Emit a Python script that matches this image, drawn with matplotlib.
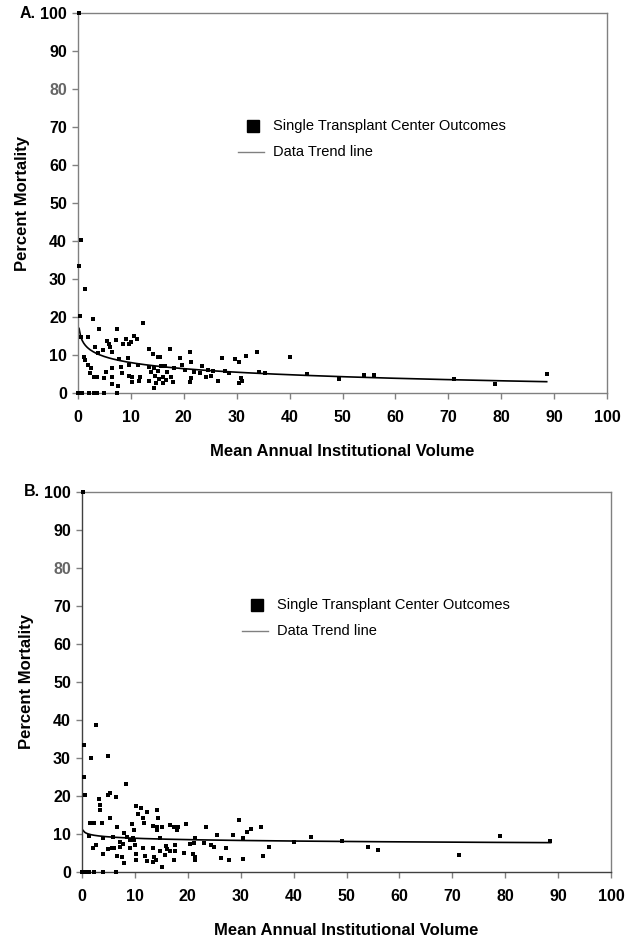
import matplotlib
matplotlib.use("Agg")
import matplotlib.pyplot as plt
import numpy as np

plt.rcParams['font.family'] = ['Liberation Sans', 'DejaVu Sans']

# Panel A - single transplant center outcomes
a_volume = [0.2, 0.5, 0.25, 1.4, 0.4, 2.8, 12.2, 4.0, 7.3, 0.6, 1.8, 10.5, 11.1, 5.4, 7.2,
            9.1, 10.0, 5.9, 3.3, 6.0, 8.6, 9.7, 13.5, 17.3, 21.2, 4.8, 6.4, 3.8, 14.1, 15.1,
            15.5, 1.2, 1.4, 7.8, 9.4, 19.2, 27.3, 29.7, 31.8, 33.8, 30.5, 21.4, 1.8, 9.7,
            11.3, 2.5, 6.5, 8.1, 13.4, 14.3, 15.7, 16.5, 23.4, 19.6, 5.2, 2.3, 8.4, 13.8,
            15.1, 16.9, 18.2, 20.3, 22.0, 23.1, 24.5, 25.5, 27.8, 28.5, 34.3, 35.4, 3.1,
            3.5, 6.5, 9.6, 10.2, 11.7, 14.6, 16.1, 17.6, 24.2, 25.1, 26.4, 21.4, 30.8, 5.0,
            10.3, 11.6, 13.5, 14.7, 15.3, 16.6, 17.9, 21.2, 30.4, 31.0, 6.4, 7.5, 14.4,
            16.0, 7.3, 0.0, 0.8, 2.1, 3.1, 3.5, 5.0,
            40.1, 43.3, 49.3, 54.1, 55.9, 71.1, 78.8, 88.6]
a_mortality = [100, 40.3, 33.5, 27.5, 20.3, 19.4, 18.5, 16.8, 16.8, 14.8, 14.8, 15.0, 14.2,
               13.7, 13.9, 14.1, 13.5, 12.9, 12.2, 12.0, 12.8, 12.9, 11.7, 11.7, 10.9, 11.3,
               10.9, 10.6, 10.3, 9.6, 9.4, 9.4, 8.7, 8.9, 9.1, 9.1, 9.1, 8.9, 9.7, 10.9,
               8.2, 8.2, 7.3, 7.3, 7.3, 6.5, 6.6, 6.9, 6.9, 6.5, 7.1, 7.1, 7.1, 7.3, 5.6,
               5.2, 5.2, 5.6, 5.9, 5.6, 6.5, 6.1, 5.6, 5.2, 6.1, 5.9, 5.9, 5.2, 5.6, 5.4,
               4.3, 4.2, 4.2, 4.5, 4.2, 4.2, 4.5, 4.2, 4.2, 4.2, 4.5, 3.3, 3.9, 3.9, 3.9,
               3.0, 3.3, 3.3, 2.7, 3.6, 3.4, 3.0, 3.0, 2.6, 3.3, 2.4, 1.9, 1.3, 2.6, 0.1,
               0, 0, 0, 0, 0, 0,
               9.5, 5.0, 3.7, 4.7, 4.7, 3.7, 2.5, 5.0]

# Panel B
b_volume = [0.1, 2.6, 0.4, 1.7, 5.0, 0.4, 8.3, 0.6, 5.2, 4.9, 6.5, 3.3, 3.4, 3.4, 10.2,
            11.1, 10.6, 12.2, 14.1, 14.4, 11.6, 5.2, 1.6, 2.3, 3.7, 11.7, 9.4, 13.5, 14.1,
            15.2, 16.6, 17.3, 18.2, 17.9, 19.7, 23.4, 29.7, 31.9, 31.1, 33.8, 6.7, 9.8,
            14.2, 1.4, 3.9, 5.8, 7.9, 8.6, 9.6, 9.0, 9.8, 7.2, 7.8, 10.0, 14.7, 21.4, 25.6,
            28.5, 30.4, 20.4, 21.2, 23.1, 24.3, 25.0, 35.4, 2.6, 2.0, 5.0, 5.6, 6.0, 7.1,
            9.1, 11.6, 13.5, 15.9, 16.1, 17.6, 14.7, 16.6, 17.6, 19.2, 27.3, 3.9, 6.7,
            10.2, 11.9, 13.6, 15.7, 21.0, 21.4, 21.4, 26.2, 27.8, 30.4, 34.3, 7.5, 10.3,
            12.2, 14.0, 17.3, 7.9, 13.4, 15.1,
            0.0, 0.8, 1.4, 2.3, 3.9, 6.4,
            40.0, 43.2, 49.1, 54.1, 56.0, 71.2, 79.0, 88.5]
b_mortality = [100, 38.7, 33.4, 30.1, 30.5, 25.1, 23.2, 20.2, 20.9, 20.2, 19.7, 19.3, 17.6,
               16.2, 17.4, 16.9, 15.3, 15.8, 16.2, 14.1, 14.1, 14.1, 12.8, 12.8, 12.8, 12.8,
               12.6, 12.1, 11.9, 11.9, 12.4, 11.8, 11.8, 11.1, 12.6, 11.9, 13.7, 11.2, 10.4,
               11.8, 11.8, 11.1, 11.1, 9.5, 9.0, 9.2, 10.2, 9.3, 8.9, 8.3, 8.3, 8.0, 7.4,
               7.1, 8.9, 8.9, 9.7, 9.7, 8.9, 7.4, 7.7, 7.7, 7.1, 6.7, 6.5, 7.1, 6.2, 6.0,
               6.2, 6.2, 6.5, 6.2, 6.2, 6.2, 6.8, 6.0, 7.1, 5.6, 5.6, 5.6, 5.1, 6.2, 4.7,
               4.2, 4.7, 4.2, 3.9, 4.5, 4.7, 3.9, 3.2, 3.6, 3.2, 3.4, 4.2, 3.9, 3.2, 3.0,
               3.2, 3.2, 2.3, 2.5, 1.3,
               0, 0, 0, 0, 0, 0,
               8.0, 9.1, 8.2, 6.7, 5.8, 4.5, 9.5, 8.1]

# logarithmic trend lines  y = c - k*ln(x)
a_trend = (13.3, 2.3)
b_trend = (10.1, 0.53)
trend_range = (0.2, 88.6)

ticks = list(range(0, 101, 10))

fig = plt.figure(figsize=(6.25, 9.43), dpi=100)

panels = [
    ("A.", [0.1248, 0.5832, 0.8464, 0.403], a_volume, a_mortality, a_trend, '#808080'),
    ("B.", [0.1312, 0.0753, 0.8464, 0.403], b_volume, b_mortality, b_trend, '#404040'),
]

for tag, rect, vol, mort, trend, axcol in panels:
    ax = fig.add_axes(rect)
    ax.scatter(vol, mort, marker='s', s=11, color='black', linewidths=0,
               zorder=3, clip_on=False)

    xs = np.linspace(trend_range[0], trend_range[1], 300)
    ax.plot(xs, trend[0] - trend[1] * np.log(xs), color='black', lw=1.2, zorder=2)

    ax.set_xlim(0, 100)
    ax.set_ylim(0, 100)
    ax.set_xticks(ticks)
    ax.set_yticks(ticks)
    ax.tick_params(direction='out', length=4, width=1, colors='#808080',
                   labelsize=11.5, pad=4, labelcolor='black')
    ax.tick_params(axis='x', pad=8)
    for lab in ax.get_xticklabels() + ax.get_yticklabels():
        lab.set_fontweight('bold')
    ax.get_yticklabels()[8].set_color('#666666')

    ax.spines['top'].set_color('#808080')
    ax.spines['right'].set_color('#808080')
    ax.spines['left'].set_color(axcol)
    ax.spines['bottom'].set_color(axcol)
    for sp in ax.spines.values():
        sp.set_linewidth(1)

    ax.set_xlabel("Mean Annual Institutional Volume", fontsize=12,
                  fontweight='bold', labelpad=14)
    ax.set_ylabel("Percent Mortality", fontsize=12, fontweight='bold', labelpad=7)

    ax.text(-0.11, 1.0, tag, transform=ax.transAxes, fontsize=11.5,
            fontweight='bold', ha='left', va='center')

    # legend drawn by hand
    ax.plot([33], [70.3], marker='s', markersize=8, color='black',
            linestyle='none', clip_on=False)
    ax.plot([30.2, 35.1], [63.3, 63.3], color='#808080', lw=1)
    ax.text(36.9, 70.3, "Single Transplant Center Outcomes", fontsize=10.5,
            ha='left', va='center')
    ax.text(36.9, 63.3, "Data Trend line", fontsize=10.5, ha='left', va='center')

fig.savefig("out.png", dpi=100)
